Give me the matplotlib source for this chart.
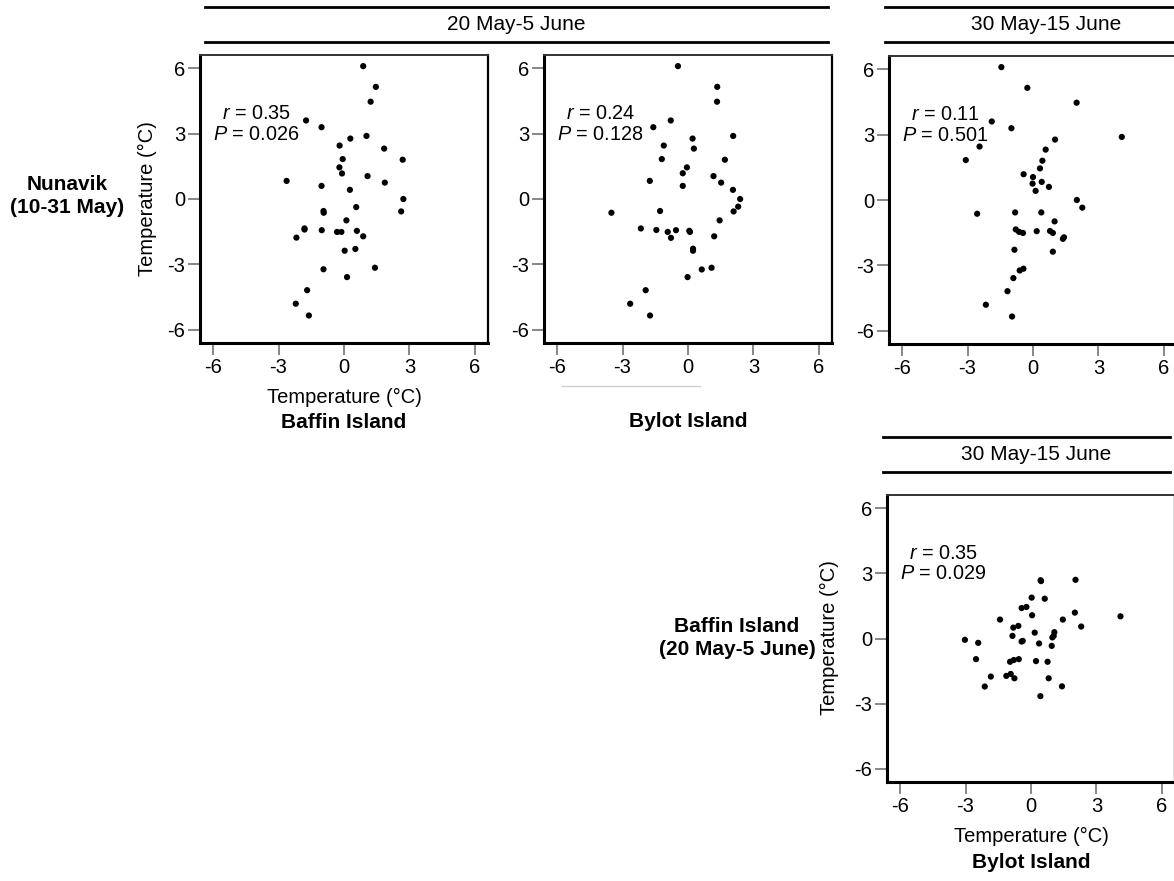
import matplotlib
matplotlib.use("Agg")
import matplotlib.pyplot as plt
from matplotlib.lines import Line2D

plt.rcParams['font.family'] = ['Liberation Sans', 'DejaVu Sans']
plt.rcParams['mathtext.fontset'] = 'custom'
plt.rcParams['mathtext.it'] = 'Liberation Sans:italic'
plt.rcParams['mathtext.rm'] = 'Liberation Sans'

# ---------------- data ----------------
ticks = [-6, -3, 0, 3, 6]
tick_labels = ["-6", "-3", "0", "3", "6"]

header_top = "20 May-5 June"
header_right = "30 May-15 June"
header_bottom = "30 May-15 June"

row_label_1 = "Nunavik\n(10-31 May)"
row_label_2 = "Baffin Island\n(20 May-5 June)"
axis_label = "Temperature (°C)"
site_labels = ["Baffin Island", "Bylot Island", "Bylot Island"]

# Panel 1: Baffin Island (20 May-5 June) vs Nunavik (10-31 May)
p1_x = [0.88, 1.46, 1.22, -1.74, -1.03, 0.29, 1.03, -0.20, 1.84, -0.06,
        2.69, -0.21, -0.09, 1.08, -2.63, 1.87, -1.03, 0.27, 2.72, 0.56,
        2.62, -0.94, -0.93, 0.11, -1.81, -1.81, -1.02, -0.32, -0.12, 0.59,
        -2.18, 0.88, 0.03, 0.52, -0.94, 1.42, 0.14, -1.69, -2.21, -1.61]
p1_y = [6.09, 5.14, 4.46, 3.60, 3.29, 2.77, 2.89, 2.45, 2.31, 1.83,
        1.80, 1.45, 1.17, 1.05, 0.83, 0.75, 0.60, 0.42, 0.00, -0.37,
        -0.57, -0.55, -0.63, -0.98, -1.35, -1.40, -1.43, -1.51, -1.51, -1.46,
        -1.77, -1.71, -2.37, -2.29, -3.22, -3.15, -3.58, -4.18, -4.80, -5.34]

# Panel 2: Bylot Island (20 May-5 June) vs Nunavik (10-31 May)
p2_x = [-0.46, 1.34, 1.33, -0.79, -1.59, 0.21, 2.07, 0.27, -1.11, -1.20,
        1.69, -0.05, -0.24, 1.17, -1.75, 1.52, -0.24, 2.06, 2.39, 2.30,
        2.09, -3.51, -1.28, 1.45, -2.16, -1.45, -0.93, -0.55, -0.78, 0.06,
        0.09, 1.20, 0.23, 0.23, 0.63, 1.08, -0.02, -1.94, -2.65, -1.74]
p2_y = [6.09, 5.14, 4.46, 3.60, 3.29, 2.77, 2.89, 2.31, 2.45, 1.83,
        1.80, 1.45, 1.18, 1.05, 0.83, 0.75, 0.60, 0.42, 0.00, -0.35,
        -0.57, -0.63, -0.55, -0.98, -1.35, -1.42, -1.51, -1.43, -1.78, -1.46,
        -1.51, -1.71, -2.28, -2.37, -3.23, -3.15, -3.58, -4.18, -4.80, -5.34]

# Panel 3: Bylot Island (30 May-15 June) vs Nunavik (10-31 May)
p3_x = [-1.45, -0.26, 2.00, -1.89, -0.99, 4.07, 1.01, -2.45, 0.58, -3.08,
        0.43, 0.32, -0.43, 0.00, 0.40, -0.02, 0.73, 0.12, 2.01, 2.26,
        -2.56, -0.82, 0.38, 0.99, -0.79, -0.64, -0.46, 0.17, 0.78, 0.91,
        1.42, 1.37, -0.85, 0.91, -0.61, -0.44, -0.90, -1.17, -2.16, -0.96]
p3_y = [6.09, 5.14, 4.46, 3.60, 3.29, 2.89, 2.77, 2.45, 2.31, 1.83,
        1.80, 1.45, 1.18, 1.05, 0.83, 0.75, 0.60, 0.42, 0.00, -0.35,
        -0.63, -0.57, -0.57, -0.98, -1.35, -1.46, -1.51, -1.43, -1.42, -1.51,
        -1.71, -1.78, -2.28, -2.37, -3.23, -3.15, -3.58, -4.18, -4.80, -5.34]

# Panel 4: Bylot Island (30 May-15 June) vs Baffin Island (20 May-5 June)
p4_x = [-3.03, -2.42, -2.52, -2.12, -1.84, -1.42, -1.13, -0.93, -0.76, -0.96,
        -0.79, -0.56, -0.85, -0.81, -0.58, -0.43, -0.38, -0.43, -0.21, 0.03,
        0.05, 0.17, 0.23, 0.37, 0.43, 0.44, 0.46, 0.63, 0.76, 0.81,
        0.95, 0.98, 1.04, 1.07, 1.42, 1.46, 2.01, 2.04, 2.30, 4.10]
p4_y = [-0.06, -0.20, -0.95, -2.21, -1.75, 0.87, -1.72, -1.63, -1.83, -1.07,
        -0.99, -0.95, 0.12, 0.50, 0.58, -0.14, -0.11, 1.40, 1.45, 1.88,
        1.07, 0.27, -1.04, -0.23, -2.65, 2.68, 2.64, 1.83, -1.07, -1.83,
        -0.34, 0.05, 0.12, 0.29, -2.20, 0.87, 1.19, 2.70, 0.55, 1.02]

stats = [("0.35", "0.026"), ("0.24", "0.128"), ("0.11", "0.501"), ("0.35", "0.029")]

# ---------------- layout ----------------
W, H = 1174, 881
fig = plt.figure(figsize=(W / 100, H / 100), dpi=100)


def rect(l, t, r, b):
    return [l / W, 1 - b / H, (r - l) / W, (b - t) / H]


def fx(x):
    return x / W


def fy(y):
    return 1 - y / H


FS = 14.5

panels = [
    (rect(200, 55, 488, 343), p1_x, p1_y),
    (rect(544, 55, 832, 343), p2_x, p2_y),
    (rect(889, 56, 1177, 344), p3_x, p3_y),
    (rect(887, 495, 1175, 782), p4_x, p4_y),
]

for (r, xs, ys), (rv, pv) in zip(panels, stats):
    ax = fig.add_axes(r)
    ax.scatter(xs, ys, s=20, color='black', edgecolors='none', zorder=3)
    ax.set_xlim(-6.6, 6.6)
    ax.set_ylim(-6.6, 6.6)
    ax.set_xticks(ticks)
    ax.set_xticklabels(tick_labels)
    ax.set_yticks(ticks)
    ax.set_yticklabels(tick_labels)
    ax.tick_params(axis='both', direction='out', length=8.5, width=1.1,
                   color='#666666', labelsize=FS, pad=2, labelcolor='black')
    ax.spines['left'].set_linewidth(2.2)
    ax.spines['bottom'].set_linewidth(2.2)
    ax.spines['right'].set_linewidth(1.6)
    ax.spines['top'].set_linewidth(1.4)
    ax.spines['top'].set_color('#333333')
    for sp in ('left', 'bottom', 'right'):
        ax.spines[sp].set_color('black')
    ax.text(-4.0, 3.45, "$r$ = %s\n$P$ = %s" % (rv, pv), ha='center', va='center',
            multialignment='center', fontsize=14.3, linespacing=1.12)

# headers
def header(x0, x1, yt, yb, text, xt):
    fig.add_artist(Line2D([fx(x0), fx(x1)], [fy(yt), fy(yt)], color='black', lw=2.0))
    fig.add_artist(Line2D([fx(x0), fx(x1)], [fy(yb), fy(yb)], color='black', lw=2.0))
    fig.text(fx(xt), fy((yt + yb) / 2), text, ha='center', va='center', fontsize=15)

header(205, 828, 7, 42, header_top, 516)
header(885, 1174, 7, 42, header_right, 1046)
header(883, 1170, 437, 472, header_bottom, 1036)

# row labels
fig.text(fx(67), fy(196), row_label_1, ha='center', va='center', fontsize=15,
         fontweight='bold', linespacing=1.25)
fig.text(fx(737), fy(638), row_label_2, ha='center', va='center', fontsize=15,
         fontweight='bold', linespacing=1.25)

# axis labels
fig.text(fx(147), fy(199), axis_label, rotation=90, ha='center', va='center', fontsize=FS)
fig.text(fx(829), fy(638), axis_label, rotation=90, ha='center', va='center', fontsize=FS)
fig.text(fx(344), fy(397), axis_label, ha='center', va='center', fontsize=FS)
fig.text(fx(1031), fy(836), axis_label, ha='center', va='center', fontsize=FS)

# site labels
fig.text(fx(344), fy(423), site_labels[0], ha='center', va='center', fontsize=15, fontweight='bold')
fig.text(fx(688), fy(422), site_labels[1], ha='center', va='center', fontsize=15, fontweight='bold')
fig.text(fx(1031), fy(862), site_labels[2], ha='center', va='center', fontsize=15, fontweight='bold')

# faint leftover rule below second panel
fig.add_artist(Line2D([fx(562), fx(700)], [fy(386), fy(386)], color='#d0d0d0', lw=1.0))

fig.savefig("out.png", dpi=100)
